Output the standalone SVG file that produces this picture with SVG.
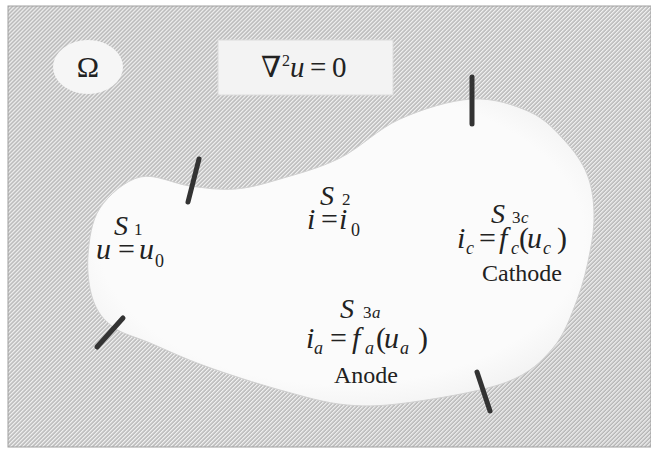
<svg xmlns="http://www.w3.org/2000/svg" width="651" height="449" viewBox="0 0 651 449">
<defs>
<pattern id="hatch" width="2.83" height="10" patternUnits="userSpaceOnUse" patternTransform="rotate(45)">
<rect width="2.83" height="10" fill="#b3b3b3"/>
<rect width="1.4" height="10" fill="#f0f0f0"/>
</pattern>
<radialGradient id="blobg" cx="0.5" cy="0.45" r="0.6">
<stop offset="0.8" stop-color="#fbfbfb"/>
<stop offset="1" stop-color="#f1f1f1"/>
</radialGradient>
<style>
.rm{font-family:"Liberation Serif","DejaVu Serif",serif;fill:#222}
.it{font-style:italic}
.bar{stroke:#333;stroke-width:5;stroke-linecap:round;fill:none}
</style>
</defs>
<rect x="0" y="0" width="651" height="449" fill="#ffffff"/>
<rect id="domain" x="8" y="6" width="643" height="441" fill="url(#hatch)" stroke="#a0a0a0" stroke-width="1"/>
<path id="blob" fill="url(#blobg)" stroke="#d0d0d0" stroke-width="1" d="M140,177 C155,173.3 174.2,184 190,186 C205.8,188 220,190.2 235,189 C250,187.8 262.5,184.2 280,179 C297.5,173.8 320,168 340,158 C360,148 378,128.8 400,119 C422,109.2 450.3,100.2 472,99 C493.7,97.8 514.5,105 530,112 C545.5,119 555.5,130.7 565,141 C574.5,151.3 582.2,162.2 587,174 C591.8,185.8 593.5,199 594,212 C594.5,225 592.8,237.3 590,252 C587.2,266.7 583.2,284 577,300 C570.8,316 564.7,334.3 553,348 C541.3,361.7 530.3,373 507,382 C483.7,391 439.7,398.2 413,402 C386.3,405.8 369.2,407 347,405 C324.8,403 303.7,396.5 280,390 C256.3,383.5 226.7,373.8 205,366 C183.3,358.2 165.3,349.5 150,343 C134.7,336.5 122.5,334.2 113,327 C103.5,319.8 97.2,312 93,300 C88.8,288 86.8,270.3 88,255 C89.2,239.7 91.3,221 100,208 C108.7,195 125,180.7 140,177 Z"/>
<g id="electrodes">
<line class="bar" x1="199" y1="159" x2="188" y2="202"/>
<line class="bar" x1="472" y1="77" x2="472" y2="124"/>
<line class="bar" x1="123" y1="318" x2="97" y2="347"/>
<line class="bar" x1="477" y1="372" x2="490" y2="411"/>
</g>
<g id="omega">
<ellipse cx="88" cy="67" rx="35" ry="27" fill="#f6f6f6"/>
<text class="rm" x="88" y="77" font-size="30" text-anchor="middle">Ω</text>
</g>
<g id="laplace">
<rect x="218" y="40" width="175" height="55" fill="#f3f3f3" stroke="#dcdcdc" stroke-width="1"/>
<text class="rm" y="77" font-size="29"><tspan x="261">∇</tspan><tspan x="282" y="66" font-size="16">2</tspan><tspan class="it" x="290" y="77">u</tspan><tspan x="310">=</tspan><tspan x="332">0</tspan></text>
</g>
<g id="S1">
<text class="rm" y="235" font-size="28"><tspan class="it" x="114">S</tspan><tspan x="134" font-size="17">1</tspan></text>
<text class="rm" y="259" font-size="30"><tspan class="it" x="96">u</tspan><tspan x="118">=</tspan><tspan class="it" x="139">u</tspan><tspan x="155" y="267" font-size="18">0</tspan></text>
</g>
<g id="S2">
<text class="rm" y="205" font-size="28"><tspan class="it" x="320">S</tspan><tspan x="342" font-size="17">2</tspan></text>
<text class="rm" y="229" font-size="30"><tspan class="it" x="307">i</tspan><tspan x="321">=</tspan><tspan class="it" x="339">i</tspan><tspan x="351" y="236" font-size="18">0</tspan></text>
</g>
<g id="S3c">
<text class="rm" y="223" font-size="28"><tspan class="it" x="491">S</tspan><tspan x="512" font-size="17">3</tspan><tspan class="it" x="521" font-size="17">c</tspan></text>
<text class="rm" y="248" font-size="30"><tspan class="it" x="457">i</tspan><tspan class="it" x="466" y="254" font-size="18">c</tspan><tspan x="479" y="248">=</tspan><tspan class="it" x="499">f</tspan><tspan class="it" x="511" y="254" font-size="18">c</tspan><tspan x="519" y="248">(</tspan><tspan class="it" x="527">u</tspan><tspan class="it" x="543" y="254" font-size="18">c</tspan><tspan x="557" y="248">)</tspan></text>
<text class="rm" x="522" y="281" font-size="24" text-anchor="middle">Cathode</text>
</g>
<g id="S3a">
<text class="rm" y="318" font-size="28"><tspan class="it" x="340">S</tspan><tspan x="363" font-size="17">3</tspan><tspan class="it" x="372" font-size="17">a</tspan></text>
<text class="rm" y="348" font-size="30"><tspan class="it" x="306">i</tspan><tspan class="it" x="314" y="354" font-size="18">a</tspan><tspan x="330" y="348">=</tspan><tspan class="it" x="352">f</tspan><tspan class="it" x="365" y="354" font-size="18">a</tspan><tspan x="376" y="348">(</tspan><tspan class="it" x="384">u</tspan><tspan class="it" x="400" y="354" font-size="18">a</tspan><tspan x="418" y="348">)</tspan></text>
<text class="rm" x="366" y="383" font-size="24" text-anchor="middle">Anode</text>
</g>
</svg>
